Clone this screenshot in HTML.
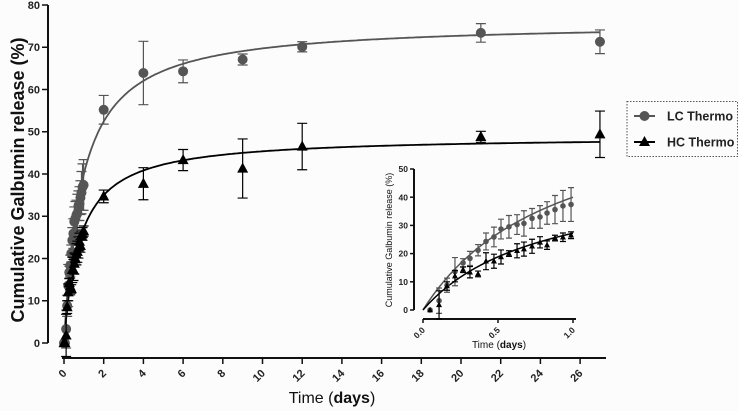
<!DOCTYPE html>
<html><head><meta charset="utf-8"><style>
html,body{margin:0;padding:0;background:#fcfcfc;}
svg{display:block;font-family:"Liberation Sans",sans-serif;}
</style></head><body>
<svg id="c" width="739" height="411"></svg>
<script>
const lcT = [0.047,0.107,0.16,0.213,0.267,0.313,0.367,0.42,0.473,0.52,0.573,0.627,0.673,0.727,0.78,0.827,0.88,0.933,0.987];
const lcV = [0,3.3,8.8,13.6,16.7,18.3,21.2,24.3,25.9,28.7,29.5,30.3,30.7,32.5,33,34.4,35.6,36.9,37.4];
const lcE = [0,4.5,2.5,5,1.5,2.5,2,3,3.5,3.5,4,3.5,4.5,3.5,4,4,5,5.5,6];
const hcT = [0.047,0.107,0.16,0.213,0.267,0.313,0.367,0.42,0.473,0.52,0.573,0.627,0.673,0.727,0.78,0.827,0.88,0.933,0.987];
const hcV = [0,1.8,8.5,12,14.3,13.4,12.8,17.3,17.3,18.8,20,21,21.6,22.6,24,23,25.5,25.8,26.5];
const hcE = [0,5,1.5,2,1,2,1,3,2.5,2.5,1,2.5,2.5,2.5,2,1.5,1,1.5,1.2];
const lcLateT = [2,4,6,9,12,21,27];
const lcLateV = [55.2,63.9,64.3,67.1,70.1,73.4,71.3];
const lcLateE = [3.4,7.5,2.7,1.3,1.2,2.2,2.8];
const hcLateT = [2,4,6,9,12,21,27];
const hcLateV = [34.7,37.7,43.3,41.3,46.5,48.8,49.4];
const hcLateE = [1.5,3.8,2.5,7,5.5,1.3,5.5];
const lcFit = [76,0.9];
const hcFit = [49,0.8];
const mainXTicks = [0,2,4,6,8,10,12,14,16,18,20,22,24,26];
const mainYTicks = [0,10,20,30,40,50,60,70,80];
const insetXTicks = [0,0.5,1.0];
const insetXLabels = ["0.0","0.5","1.0"];
const insetYTicks = [0,10,20,30,40,50];

const svg=document.getElementById('c');
const NS='http://www.w3.org/2000/svg';
function mk(tag,attrs,parent){const e=document.createElementNS(NS,tag);for(const k in attrs)e.setAttribute(k,attrs[k]);(parent||svg).appendChild(e);return e;}
const mx=t=>64+t*19.85, my=v=>343-v*4.225;
const ix=t=>423+t*150, iy=v=>310-v*2.82;

function axes(g,X,Y,x0,x1,yAx,xTicks,xLabels,yTicks,fs,tl,axY,axX){
  const ya=mk('line',{x1:axX,x2:axX,y1:Y(yTicks[yTicks.length-1]),y2:Y(0),stroke:'#111','stroke-width':2},g);
  
  yTicks.forEach(v=>{
    const t=mk('line',{x1:axX-tl,x2:axX,y1:Y(v),y2:Y(v),stroke:'#111','stroke-width':1.5},g);
    
    const l=mk('text',{x:axX-tl-2,y:Y(v)+fs*0.36,'text-anchor':'end','font-size':fs,'font-weight':'bold',fill:'#222'},g);
    l.textContent=v;
  });
  const xa=mk('line',{x1:x0,x2:x1,y1:axY,y2:axY,stroke:'#111','stroke-width':2},g);
  
  xTicks.forEach((v,i)=>{
    const t=mk('line',{x1:X(v),x2:X(v),y1:axY,y2:axY+tl,stroke:'#111','stroke-width':1.5},g);
    
    const px=X(v)+fs*0.3, py=axY+tl+fs*0.9;
    const l=mk('text',{x:px,y:py,'text-anchor':'end','font-size':fs,'font-weight':'bold',fill:'#222',transform:`rotate(-45 ${px} ${py})`},g);
    l.textContent=xLabels?xLabels[i]:v;
  });
}
function curve(g,X,Y,p,tmax,col,w,name){
  let d='';for(let i=0;i<=300;i++){const t=tmax*i/300;const v=p[0]*t/(p[1]+t);d+=(i?'L':'M')+X(t).toFixed(1)+' '+Y(v).toFixed(1);}
  const e=mk('path',{d:d,fill:'none',stroke:col,'stroke-width':w},g);
  
}
function series(g,X,Y,T,V,E,col,shape,r,cap,name){
  T.forEach((t,i)=>{
    const x=X(t),y=Y(V[i]);
    if(E[i]>0){
      const eb=mk('path',{d:`M${x} ${Y(V[i]+E[i])}V${Y(V[i]-E[i])}M${x-cap} ${Y(V[i]+E[i])}h${2*cap}M${x-cap} ${Y(V[i]-E[i])}h${2*cap}`,stroke:col,'stroke-width':1.2,fill:'none'},g);
      
    }
    let m;
    if(shape==='c') m=mk('circle',{cx:x,cy:y,r:r,fill:col},g);
    else m=mk('path',{d:`M${x} ${y-r*1.1}L${x+r} ${y+r*0.75}L${x-r} ${y+r*0.75}Z`,fill:col},g);
    
  });
}
const LC='#555', HC='#000';
const gm=mk('g',{});
axes(gm,mx,my,62,606,0,mainXTicks,null,mainYTicks,11,6,358,48);
curve(gm,mx,my,lcFit,27,LC,1.8,'lc-fit-curve');
curve(gm,mx,my,hcFit,27,HC,1.8,'hc-fit-curve');
series(gm,mx,my,[0].concat(lcT,lcLateT),[0].concat(lcV,lcLateV),[0].concat(lcE,lcLateE),LC,'c',5,5,'lc');
series(gm,mx,my,[0].concat(hcT,hcLateT),[0].concat(hcV,hcLateV),[0].concat(hcE,hcLateE),HC,'t',5.5,5,'hc');
let t=mk('text',{x:0,y:0,transform:'translate(24 180) rotate(-90)','text-anchor':'middle','font-size':18,'font-weight':'bold',fill:'#111'});
t.textContent='Cumulative Galbumin release (%)';
t=mk('text',{x:332,y:403,'text-anchor':'middle','font-size':16,fill:'#111'});
t.innerHTML='Time (<tspan font-weight="bold">days</tspan>)';
const gi=mk('g',{});
axes(gi,ix,iy,423,576,0,insetXTicks,insetXLabels,insetYTicks,8.5,4,319,414);
curve(gi,ix,iy,lcFit,1,LC,1.5,'inset-lc-fit-curve');
curve(gi,ix,iy,hcFit,1,HC,1.5,'inset-hc-fit-curve');
series(gi,ix,iy,lcT,lcV,lcE,LC,'c',2.8,3,'inset-lc');
series(gi,ix,iy,hcT,hcV,hcE,HC,'t',3,3,'inset-hc');
t=mk('text',{x:0,y:0,transform:'translate(392 240) rotate(-90)','text-anchor':'middle','font-size':9,fill:'#111'});
t.textContent='Cumulative Galbumin release (%)';
t=mk('text',{x:499,y:348,'text-anchor':'middle','font-size':10,fill:'#111'});
t.innerHTML='Time (<tspan font-weight="bold">days</tspan>)';
const gl=mk('g',{});
mk('rect',{x:627,y:101.5,width:110.5,height:55,fill:'none',stroke:'#555','stroke-width':1,'stroke-dasharray':'1.5 1.5'},gl);
[['LC Thermo',LC,'c',116],['HC Thermo',HC,'t',142]].forEach(a=>{
  const e=mk('g',{},gl);
  mk('line',{x1:634,x2:655,y1:a[3],y2:a[3],stroke:a[1],'stroke-width':2},e);
  if(a[2]==='c')mk('circle',{cx:644.5,cy:a[3],r:5,fill:a[1]},e);
  else mk('path',{d:`M644.5 ${a[3]-6}L650 ${a[3]+4}L639 ${a[3]+4}Z`,fill:a[1]},e);
  const tx=mk('text',{x:667,y:a[3]+4.5,'font-size':12.5,'font-weight':'bold',fill:'#222'},e);tx.textContent=a[0];
});
</script>
</body></html>
